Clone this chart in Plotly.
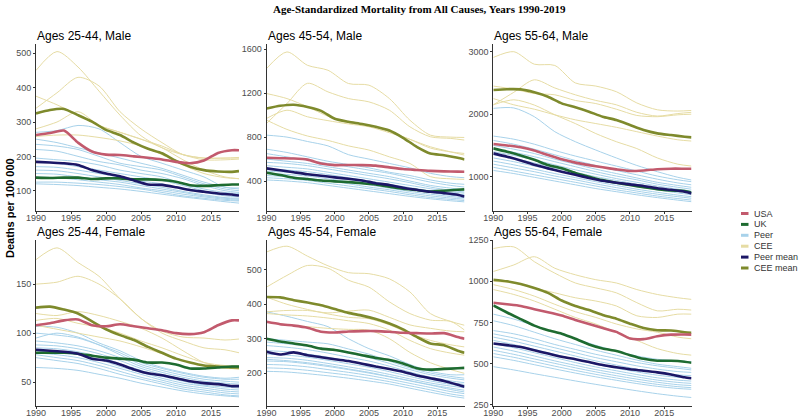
import plotly.graph_objects as go

# ---------------- data ----------------
YEARS_M = [1990, 1992, 1994, 1996, 1998, 2000, 2002, 2004, 2006, 2008, 2010, 2012, 2014, 2016, 2018, 2019]
YEARS_T = [1990, 1993, 1996, 1999, 2002, 2005, 2008, 2011, 2014, 2017, 2019]
X_TICKS = [1990, 1995, 2000, 2005, 2010, 2015]

# Ages 25-44, Male
M2544_USA = [262, 268, 275, 240, 214, 205, 204, 200, 196, 191, 184, 180, 188, 210, 218, 218]
M2544_UK = [138, 137, 138, 138, 134, 136, 136, 133, 133, 131, 126, 116, 114, 116, 118, 118]
M2544_PEERMEAN = [184, 182, 180, 175, 160, 150, 142, 130, 118, 117, 110, 102, 97, 92, 89, 86]
M2544_CEEMEAN = [325, 335, 338, 320, 301, 277, 262, 240, 222, 209, 187, 170, 160, 156, 155, 157]
M2544_CEE = [
    [450, 505, 460, 390, 320, 260, 225, 205, 195, 195, 197],
    [340, 385, 430, 405, 330, 280, 240, 205, 195, 195, 195],
    [375, 350, 320, 290, 270, 250, 230, 205, 190, 190, 192],
    [280, 300, 330, 290, 270, 250, 225, 190, 160, 140, 135],
    [258, 262, 262, 255, 245, 230, 205, 175, 150, 138, 135],
]
M2544_PEER = [
    [270, 275, 290, 280, 240, 200, 180, 160, 140, 110, 108],
    [250, 240, 225, 210, 195, 180, 165, 145, 125, 110, 105],
    [235, 230, 220, 200, 180, 170, 160, 140, 120, 105, 100],
    [220, 215, 200, 185, 175, 160, 150, 135, 115, 100, 95],
    [195, 190, 185, 175, 160, 150, 140, 120, 105, 95, 92],
    [185, 180, 170, 160, 150, 140, 130, 115, 100, 90, 88],
    [170, 168, 160, 150, 140, 128, 120, 105, 95, 85, 82],
    [160, 158, 150, 140, 130, 120, 110, 98, 88, 80, 78],
    [150, 148, 140, 132, 125, 115, 105, 95, 85, 78, 75],
    [140, 138, 132, 125, 118, 108, 100, 90, 82, 75, 72],
    [125, 125, 122, 118, 112, 105, 95, 85, 78, 72, 70],
    [120, 118, 115, 110, 105, 98, 90, 82, 75, 68, 64],
]

# Ages 45-54, Male
M4554_USA = [612, 608, 605, 595, 560, 545, 546, 545, 540, 524, 509, 500, 492, 488, 486, 485]
M4554_UK = [476, 455, 430, 418, 405, 397, 390, 380, 368, 348, 330, 318, 305, 312, 320, 324]
M4554_PEERMEAN = [515, 498, 480, 462, 448, 433, 420, 405, 380, 364, 339, 320, 302, 290, 275, 258]
M4554_CEEMEAN = [1060, 1085, 1095, 1075, 1039, 967, 940, 920, 895, 860, 794, 712, 651, 635, 612, 597]
M4554_CEE = [
    [1424, 1576, 1454, 1409, 1288, 1273, 1151, 954, 818, 800, 797],
    [924, 1106, 1290, 1212, 1151, 1121, 1045, 894, 803, 788, 773],
    [1197, 1151, 1076, 990, 930, 909, 850, 780, 712, 665, 636],
    [970, 1045, 985, 950, 920, 894, 840, 780, 700, 665, 651],
    [955, 870, 810, 770, 720, 682, 620, 560, 440, 420, 415],
]
M4554_PEER = [
    [818, 800, 760, 720, 640, 600, 560, 520, 470, 440, 430],
    [690, 660, 620, 580, 550, 520, 480, 450, 410, 380, 370],
    [650, 620, 590, 560, 530, 500, 470, 430, 390, 360, 345],
    [600, 580, 560, 530, 500, 470, 440, 400, 360, 335, 320],
    [570, 560, 540, 510, 480, 450, 420, 385, 345, 315, 300],
    [540, 525, 510, 480, 450, 420, 390, 360, 330, 300, 290],
    [510, 500, 485, 460, 430, 400, 370, 340, 310, 285, 275],
    [490, 480, 465, 440, 415, 385, 355, 325, 295, 270, 260],
    [470, 460, 445, 420, 395, 365, 335, 305, 280, 258, 248],
    [450, 440, 425, 400, 375, 345, 320, 290, 265, 245, 235],
    [430, 420, 405, 380, 355, 330, 305, 275, 250, 232, 222],
    [410, 400, 385, 360, 335, 310, 285, 260, 238, 220, 210],
]

# Ages 55-64, Male
M5564_USA = [1523, 1500, 1470, 1420, 1346, 1277, 1225, 1185, 1150, 1117, 1091, 1100, 1120, 1128, 1128, 1128]
M5564_UK = [1453, 1400, 1340, 1270, 1187, 1133, 1060, 1000, 945, 904, 867, 830, 800, 780, 770, 744]
M5564_PEERMEAN = [1373, 1320, 1260, 1190, 1133, 1080, 1030, 980, 935, 904, 877, 851, 815, 790, 760, 733]
M5564_CEEMEAN = [2387, 2400, 2397, 2350, 2279, 2173, 2110, 2040, 1960, 1906, 1826, 1746, 1693, 1666, 1640, 1629]
M5564_CEE = [
    [2908, 3000, 2800, 2780, 2500, 2450, 2360, 2180, 2070, 2050, 2060],
    [2150, 2350, 2550, 2420, 2310, 2220, 2150, 2030, 1970, 2010, 2030],
    [2450, 2400, 2330, 2310, 2220, 2170, 2080, 1980, 1960, 1990, 2000],
    [2250, 2150, 2080, 1990, 1910, 1850, 1790, 1720, 1650, 1590, 1570],
    [2150, 2230, 2146, 1990, 1850, 1690, 1560, 1450, 1300, 1200, 1170],
]
M5564_PEER = [
    [2093, 2100, 1960, 1720, 1560, 1426, 1300, 1180, 1080, 990, 947],
    [1650, 1600, 1520, 1420, 1330, 1250, 1170, 1090, 1010, 950, 920],
    [1580, 1520, 1440, 1350, 1260, 1180, 1100, 1030, 960, 900, 870],
    [1500, 1440, 1370, 1280, 1200, 1120, 1050, 980, 910, 860, 830],
    [1450, 1390, 1320, 1240, 1160, 1080, 1010, 950, 880, 830, 800],
    [1400, 1340, 1270, 1190, 1110, 1040, 970, 910, 850, 800, 770],
    [1350, 1290, 1220, 1140, 1070, 1000, 940, 880, 820, 770, 740],
    [1300, 1240, 1170, 1100, 1030, 960, 900, 840, 790, 740, 710],
    [1250, 1190, 1120, 1050, 985, 920, 860, 800, 750, 705, 680],
    [1200, 1140, 1080, 1010, 950, 885, 825, 770, 720, 680, 655],
    [1150, 1090, 1030, 970, 910, 850, 790, 740, 690, 650, 625],
    [1100, 1050, 990, 930, 870, 810, 760, 710, 665, 625, 600],
]

# Ages 25-44, Female
F2544_USA = [108, 110, 113, 114, 108, 107, 109, 107, 105, 103, 100, 99, 101, 108, 113, 113]
F2544_UK = [80, 80, 80, 79, 77, 75, 74, 73, 70, 70, 68, 64, 64, 65, 66, 66]
F2544_PEERMEAN = [83, 82, 81, 79, 74, 72, 68, 63, 59, 57, 54, 51, 49, 48, 46, 46]
F2544_CEEMEAN = [126, 127, 124, 120, 112, 104, 98, 93, 86, 80, 74, 70, 67, 66, 65, 65]
F2544_CEE = [
    [175, 187, 172, 158, 135, 115, 102, 96, 95, 93, 94],
    [150, 152, 158, 150, 135, 115, 100, 92, 85, 83, 80],
    [120, 118, 122, 118, 112, 105, 95, 82, 70, 65, 63],
    [113, 115, 110, 106, 100, 92, 85, 77, 70, 67, 67],
    [108, 104, 100, 96, 92, 86, 79, 72, 67, 64, 64],
]
F2544_PEER = [
    [107, 106, 100, 90, 82, 72, 65, 60, 56, 54, 55],
    [100, 98, 95, 88, 80, 70, 64, 59, 55, 53, 53],
    [95, 100, 96, 88, 78, 68, 62, 57, 53, 51, 50],
    [92, 90, 87, 82, 75, 66, 60, 55, 51, 49, 48],
    [88, 87, 84, 79, 72, 64, 58, 53, 49, 47, 46],
    [85, 84, 81, 76, 69, 62, 56, 51, 47, 45, 44],
    [82, 80, 78, 73, 66, 60, 54, 49, 46, 43, 42],
    [80, 78, 75, 70, 64, 58, 52, 47, 44, 41, 40],
    [78, 75, 72, 67, 61, 55, 50, 45, 42, 39, 38],
    [75, 72, 69, 64, 58, 53, 48, 43, 40, 37, 36],
    [65, 64, 62, 58, 54, 49, 45, 41, 38, 36, 35],
]

# Ages 45-54, Female
F4554_USA = [349, 342, 338, 332, 320, 318, 321, 322, 322, 320, 317, 316, 315, 316, 305, 300]
F4554_UK = [300, 292, 286, 280, 271, 267, 260, 252, 244, 238, 228, 214, 210, 212, 214, 215]
F4554_PEERMEAN = [262, 254, 260, 252, 246, 240, 235, 227, 219, 212, 204, 193, 185, 177, 166, 160]
F4554_CEEMEAN = [421, 420, 412, 405, 397, 386, 375, 367, 357, 344, 327, 305, 286, 281, 265, 259]
F4554_CEE = [
    [552, 569, 540, 512, 492, 489, 474, 436, 373, 350, 339],
    [450, 484, 513, 505, 470, 450, 407, 373, 354, 350, 325],
    [378, 382, 382, 375, 380, 383, 362, 340, 330, 322, 320],
    [421, 400, 385, 372, 362, 358, 340, 315, 295, 282, 276],
    [373, 369, 366, 360, 352, 344, 325, 295, 271, 258, 252],
    [349, 340, 335, 330, 327, 325, 300, 260, 230, 210, 199],
]
F4554_PEER = [
    [378, 365, 350, 335, 300, 271, 250, 225, 205, 195, 195],
    [300, 295, 290, 285, 270, 255, 235, 215, 200, 190, 185],
    [290, 285, 278, 270, 258, 245, 228, 210, 195, 185, 180],
    [280, 275, 268, 258, 246, 235, 220, 203, 188, 177, 172],
    [265, 262, 255, 246, 235, 225, 212, 196, 182, 172, 167],
    [255, 252, 246, 237, 227, 217, 204, 190, 177, 167, 162],
    [245, 243, 237, 228, 218, 208, 196, 183, 171, 162, 157],
    [240, 236, 230, 222, 212, 202, 190, 178, 166, 156, 150],
    [235, 233, 227, 219, 210, 200, 189, 177, 165, 152, 145],
    [225, 223, 218, 210, 202, 193, 182, 170, 158, 146, 140],
    [215, 213, 208, 201, 194, 185, 175, 163, 151, 139, 133],
    [205, 203, 198, 192, 185, 177, 168, 156, 144, 133, 127],
]

# Ages 55-64, Female
F5564_USA = [869, 860, 850, 830, 812, 792, 765, 740, 715, 692, 651, 648, 665, 675, 676, 675]
F5564_UK = [853, 810, 770, 730, 702, 681, 650, 615, 590, 575, 550, 528, 516, 516, 510, 504]
F5564_PEERMEAN = [621, 611, 600, 580, 560, 540, 525, 508, 490, 476, 464, 455, 445, 432, 415, 409]
F5564_CEEMEAN = [1010, 1000, 984, 960, 930, 883, 850, 825, 795, 772, 742, 715, 702, 700, 690, 687]
F5564_CEE = [
    [1200, 1210, 1120, 1050, 990, 960, 930, 870, 820, 830, 825],
    [1060, 1100, 1150, 1080, 1040, 1010, 990, 950, 920, 900, 890],
    [1000, 990, 960, 930, 900, 880, 850, 790, 780, 800, 800],
    [980, 950, 910, 860, 815, 780, 740, 710, 690, 660, 650],
    [950, 920, 880, 830, 780, 740, 690, 640, 590, 560, 550],
]
F5564_PEER = [
    [800, 770, 730, 690, 650, 610, 575, 545, 525, 515, 510],
    [760, 730, 690, 650, 615, 580, 550, 520, 495, 480, 470],
    [700, 680, 650, 615, 585, 555, 530, 505, 485, 470, 460],
    [680, 655, 625, 595, 565, 535, 510, 485, 465, 450, 445],
    [660, 635, 605, 575, 545, 515, 490, 465, 445, 430, 425],
    [640, 615, 585, 555, 525, 495, 470, 448, 428, 415, 410],
    [620, 595, 565, 535, 505, 478, 455, 432, 412, 398, 392],
    [600, 575, 545, 515, 488, 462, 440, 418, 398, 384, 378],
    [580, 555, 527, 500, 473, 448, 425, 404, 385, 370, 365],
    [560, 537, 510, 483, 457, 433, 411, 390, 372, 358, 352],
    [540, 518, 492, 466, 441, 418, 397, 377, 360, 347, 342],
    [480, 460, 437, 415, 393, 372, 352, 333, 315, 300, 292],
]

PANEL_TITLES = ["Ages 25-44, Male", "Ages 45-54, Male", "Ages 55-64, Male",
                "Ages 25-44, Female", "Ages 45-54, Female", "Ages 55-64, Female"]
Y_TICKS = [[100, 200, 300, 400, 500], [400, 800, 1200, 1600], [1000, 2000, 3000],
           [50, 100, 150], [200, 300, 400, 500], [250, 500, 750, 1000, 1250]]
Y_RANGES = [[41, 527], [127, 1648], [451, 3123], [26, 195], [105, 587], [242, 1252]]

LEGEND_LABELS = ["USA", "UK", "Peer", "CEE", "Peer mean", "CEE mean"]

# ---------------- style ----------------
W, H = 800, 417
C_USA = "#c25a6d"
C_UK = "#1e6b30"
C_PEER = "#a8d2ea"
C_CEE = "#e6dca4"
C_PEERMEAN = "#1c1766"
C_CEEMEAN = "#7e8a2c"
LEGEND_COLORS = [C_USA, C_UK, C_PEER, C_CEE, C_PEERMEAN, C_CEEMEAN]

panels = [
    (M2544_USA, M2544_UK, M2544_PEERMEAN, M2544_CEEMEAN, M2544_PEER, M2544_CEE),
    (M4554_USA, M4554_UK, M4554_PEERMEAN, M4554_CEEMEAN, M4554_PEER, M4554_CEE),
    (M5564_USA, M5564_UK, M5564_PEERMEAN, M5564_CEEMEAN, M5564_PEER, M5564_CEE),
    (F2544_USA, F2544_UK, F2544_PEERMEAN, F2544_CEEMEAN, F2544_PEER, F2544_CEE),
    (F4554_USA, F4554_UK, F4554_PEERMEAN, F4554_CEEMEAN, F4554_PEER, F4554_CEE),
    (F5564_USA, F5564_UK, F5564_PEERMEAN, F5564_CEEMEAN, F5564_PEER, F5564_CEE),
]

# pixel domains
COL_PX = [(36, 239), (266.5, 464.5), (493.3, 691.5)]
ROW_PX = [(44, 211), (240, 405.7)]

def px_x(p):
    return p / W

def px_y(p):
    return 1 - p / H

fig = go.Figure()
layout = {}
annotations = []
shapes = []

for i, (usa, uk, pm, cm, peer, cee) in enumerate(panels):
    r, c = divmod(i, 3)
    n = "" if i == 0 else str(i + 1)
    xa, ya = "x" + n, "y" + n
    for s in peer:
        fig.add_trace(go.Scatter(x=YEARS_T, y=s, mode="lines", xaxis=xa, yaxis=ya,
                                 line=dict(color=C_PEER, width=1, shape="spline", smoothing=0.8),
                                 showlegend=False, hoverinfo="skip"))
    for s in cee:
        fig.add_trace(go.Scatter(x=YEARS_T, y=s, mode="lines", xaxis=xa, yaxis=ya,
                                 line=dict(color=C_CEE, width=1, shape="spline", smoothing=0.8),
                                 showlegend=False, hoverinfo="skip"))
    for s, col, name in [(cm, C_CEEMEAN, "CEE mean"), (usa, C_USA, "USA"),
                         (uk, C_UK, "UK"), (pm, C_PEERMEAN, "Peer mean")]:
        fig.add_trace(go.Scatter(x=YEARS_M, y=s, mode="lines", xaxis=xa, yaxis=ya, name=name,
                                 line=dict(color=col, width=2.6, shape="spline", smoothing=0.6),
                                 showlegend=False))
    x0, x1 = COL_PX[c]
    y0, y1 = ROW_PX[r]
    axis_common = dict(showgrid=False, zeroline=False, showline=True, linecolor="#333333",
                       linewidth=1, ticks="outside", ticklen=2, tickcolor="#333333",
                       automargin=False,
                       tickfont=dict(family="Liberation Sans, Arial", size=9, color="#4d4d4d"))
    layout["xaxis" + n] = dict(domain=[px_x(x0), px_x(x1)], anchor=ya, range=[1990, 2019],
                               tickvals=X_TICKS, ticklabelstandoff=-4, **axis_common)
    layout["yaxis" + n] = dict(domain=[px_y(y1), px_y(y0)], anchor=xa, range=Y_RANGES[i],
                               tickvals=Y_TICKS[i], **axis_common)
    annotations.append(dict(text=PANEL_TITLES[i], xref="paper", yref="paper",
                            x=px_x(x0 - 1), y=px_y(y0 - 8.5), xanchor="left", yanchor="middle",
                            showarrow=False,
                            font=dict(family="Liberation Sans, Arial", size=12, color="#000000")))

# overall title
annotations.append(dict(text="<b>Age-Standardized Mortality from All Causes, Years 1990-2019</b>",
                        xref="paper", yref="paper", x=px_x(419), y=px_y(9), xanchor="center",
                        yanchor="middle", showarrow=False,
                        font=dict(family="Liberation Serif, Times New Roman", size=11, color="#000000")))
# y axis title
annotations.append(dict(text="<b>Deaths per 100 000</b>", xref="paper", yref="paper",
                        x=px_x(10), y=px_y(208), xanchor="center", yanchor="middle",
                        textangle=-90, showarrow=False,
                        font=dict(family="Liberation Sans, Arial", size=11, color="#000000")))

# legend (drawn as keys + labels)
for k, (lab, col) in enumerate(zip(LEGEND_LABELS, LEGEND_COLORS)):
    yy = 213.5 + 10.9 * k
    shapes.append(dict(type="line", xref="paper", yref="paper",
                       x0=px_x(741), x1=px_x(748.5), y0=px_y(yy), y1=px_y(yy),
                       line=dict(color=col, width=3)))
    annotations.append(dict(text=lab, xref="paper", yref="paper", x=px_x(751.5), y=px_y(yy),
                            xanchor="left", yanchor="middle", showarrow=False,
                            font=dict(family="Liberation Sans, Arial", size=9, color="#333333")))

fig.update_layout(template="none", width=W, height=H, margin=dict(l=0, r=0, t=0, b=0, autoexpand=False),
                  paper_bgcolor="white", plot_bgcolor="white", showlegend=False,
                  annotations=annotations, shapes=shapes, **layout)

fig.write_html("out.html", config={"displayModeBar": False},
               post_script="document.body.style.margin='0px';document.body.style.padding='0px';")
